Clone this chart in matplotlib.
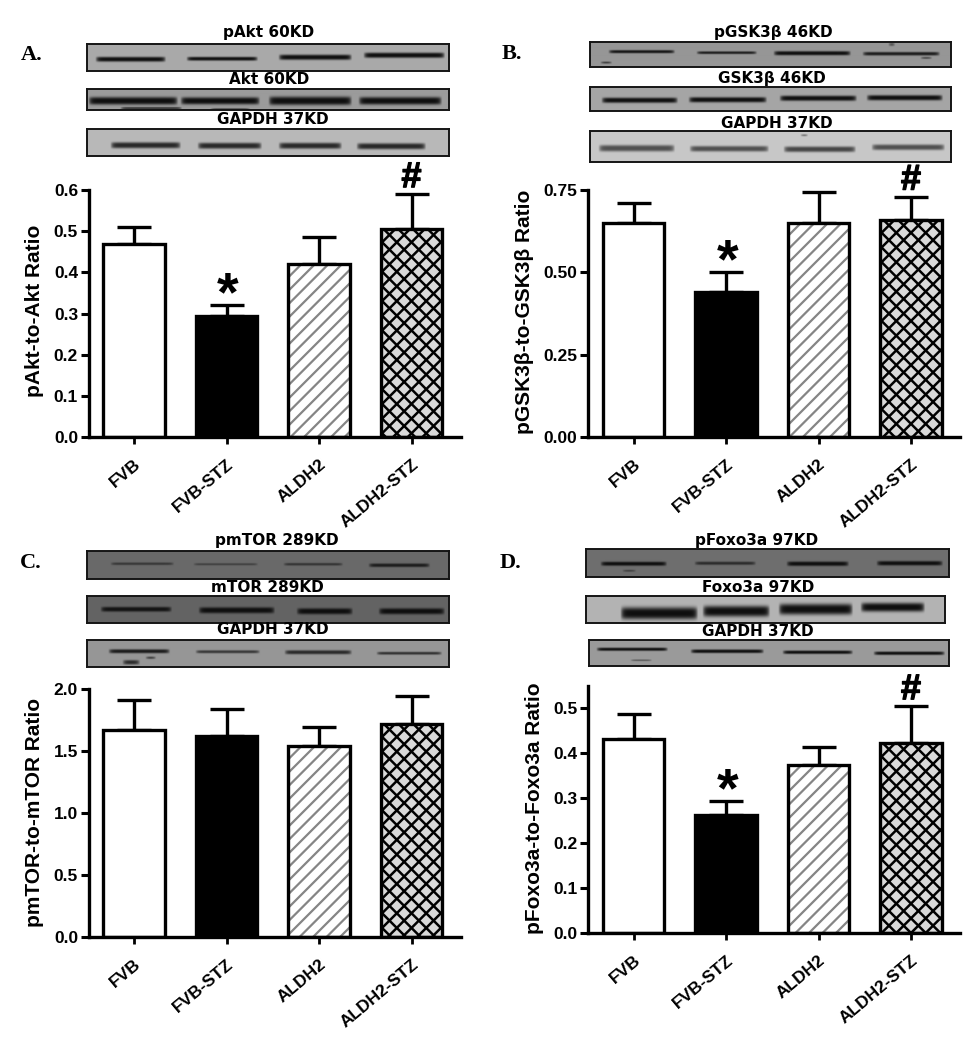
import numpy as np
import matplotlib
matplotlib.use('Agg')
import matplotlib.pyplot as plt
import matplotlib.patheffects as pe
from matplotlib.collections import LineCollection
from matplotlib.transforms import ScaledTranslation, IdentityTransform

W, H = 973, 1050

plt.rcParams['font.family'] = ['Liberation Sans', 'DejaVu Sans']
plt.rcParams['font.weight'] = 'bold'

groups = ['FVB', 'FVB-STZ', 'ALDH2', 'ALDH2-STZ']

# bar heights and upper error caps
akt_mean = [0.47, 0.295, 0.42, 0.505]
akt_top = [0.51, 0.32, 0.485, 0.59]
gsk_mean = [0.65, 0.44, 0.65, 0.66]
gsk_top = [0.71, 0.50, 0.745, 0.73]
mtor_mean = [1.67, 1.62, 1.54, 1.72]
mtor_top = [1.91, 1.84, 1.69, 1.94]
foxo_mean = [0.432, 0.262, 0.373, 0.422]
foxo_top = [0.487, 0.294, 0.414, 0.505]

akt_ticks = [0.0, 0.1, 0.2, 0.3, 0.4, 0.5, 0.6]
gsk_ticks = [0.0, 0.25, 0.5, 0.75]
mtor_ticks = [0.0, 0.5, 1.0, 1.5, 2.0]
foxo_ticks = [0.0, 0.1, 0.2, 0.3, 0.4, 0.5]

# western blot strips: (x0, y0, x1, y1, background grey), bands: (x0, x1, y, half thickness, darkness)
strips = [
    ((87, 44, 449, 71, 170), [(95, 166, 59, 2.4, 1), (186, 258, 58.5, 1.9, 1), (278, 352, 57, 2.6, 1), (363, 445, 55, 2.6, 1)]),
    ((87, 89, 449, 110, 155), [(88, 178, 101, 3.6, 1), (180, 260, 101, 3.4, 1), (268, 352, 101, 4, 1), (358, 442, 101, 3.6, 1), (120, 182, 108, 1, .8), (210, 250, 109, 0.9, .7)]),
    ((87, 129, 449, 156, 185), [(110, 181, 145, 3, .85), (197, 262, 145.5, 3, .85), (278, 342, 145.5, 3, .85), (356, 426, 146, 3, .85)]),
    ((590, 42, 951, 67, 150), [(608, 675, 52, 1.5, .95), (696, 757, 53, 1.3, .9), (773, 851, 53.5, 2, 1), (862, 940, 54, 1.7, .9), (600, 612, 62.5, 1, .7), (888, 895, 45, 1.6, .7), (920, 932, 58, 1, .6)]),
    ((590, 87, 951, 111, 165), [(601, 678, 100, 2.6, 1), (688, 767, 99.5, 2.6, 1), (779, 857, 98, 2.6, 1), (866, 943, 97.5, 2.6, 1)]),
    ((590, 131, 951, 162, 200), [(598, 675, 148, 3.2, .65), (689, 769, 148.5, 2.8, .65), (783, 856, 149, 2.8, .7), (871, 945, 147, 2.8, .65), (800, 808, 135, 1, .6)]),
    ((87, 551, 449, 579, 105), [(110, 174, 563.5, 1.3, .55), (193, 258, 564, 1.1, .45), (283, 343, 564, 1.3, .6), (368, 430, 565, 1.8, .85)]),
    ((87, 596, 449, 623, 100), [(100, 172, 609, 2.4, .95), (198, 275, 610, 3, 1), (296, 353, 611, 3, 1), (378, 445, 611, 3, 1)]),
    ((87, 640, 449, 667, 150), [(108, 170, 651, 2, .9), (195, 260, 651.5, 1.5, .7), (284, 352, 652, 2, .8), (376, 442, 653, 1.4, .75), (122, 140, 662, 2.2, .8), (145, 156, 657.5, 1.2, .7)]),
    ((586, 549, 949, 577, 110), [(600, 667, 563.5, 2, 1), (694, 756, 563, 1.6, .7), (786, 849, 563.5, 2.2, 1), (876, 943, 563, 2.2, 1), (622, 636, 570.5, 1, .5)]),
    ((586, 596, 945, 623, 180), [(620, 698, 613, 6, 1), (702, 770, 611, 5.4, 1), (778, 853, 609, 5.4, 1), (860, 925, 607, 4.4, 1)]),
    ((589, 640, 949, 666, 155), [(596, 668, 649, 1.6, 1), (690, 764, 651, 1.8, 1), (782, 853, 652, 1.7, 1), (873, 945, 653, 1.7, 1), (630, 652, 660, 0.8, .5)]),
]

strip_labels = [
    ('pAkt 60KD', 269, 33), ('Akt 60KD', 269, 79), ('GAPDH 37KD', 273, 120),
    ('pGSK3β 46KD', 773, 33), ('GSK3β 46KD', 772, 78), ('GAPDH 37KD', 777, 123),
    ('pmTOR 289KD', 277, 541), ('mTOR 289KD', 267, 587), ('GAPDH 37KD', 273, 630),
    ('pFoxo3a 97KD', 757, 541), ('Foxo3a 97KD', 758, 588), ('GAPDH 37KD', 758, 632),
]

fig = plt.figure(figsize=(W / 100, H / 100), dpi=100)


def px_axes(x0, y0, x1, y1):
    return fig.add_axes([x0 / W, 1 - y1 / H, (x1 - x0) / W, (y1 - y0) / H])


def fig_text(x, y, s, **kw):
    fig.text(x / W, 1 - y / H, s, ha='center', va='center', **kw)


def draw_strip(box, bands):
    x0, y0, x1, y1, grey = box
    xs = np.arange(x0, x1, 0.5)
    ys = np.arange(y0, y1, 0.5)
    xx, yy = np.meshgrid(xs, ys)
    dark = np.zeros_like(xx)
    for bx0, bx1, by, thick, d in bands:
        edge = np.clip(np.tanh((xx - bx0) / 3) * np.tanh((bx1 - xx) / 3), 0, 1)
        dark += d * edge * np.exp(-np.abs((yy - by) / thick) ** 3)
    dark = np.clip(dark, 0, 1)
    img = grey * (1 - dark) + 15 * dark
    ax = px_axes(x0, y0, x1, y1)
    ax.imshow(img, cmap='gray', vmin=0, vmax=255, aspect='auto', interpolation='bilinear')
    ax.set_xticks([])
    ax.set_yticks([])
    for sp in ax.spines.values():
        sp.set_linewidth(1.4)
        sp.set_color('#151515')


def add_hatch(ax, patch, period, color, lw, cross=False):
    # built-in hatch spacing can't be tuned finely, so lay the 45 degree lines by hand (pixels)
    x0, y0 = ax.transData.transform((patch.get_x(), 0))
    x1, y1 = ax.transData.transform((patch.get_x() + patch.get_width(), patch.get_height()))
    h = y1 - y0
    offsets = np.arange(-h - period, x1 - x0 + period, period)
    segs = [[(x0 + o, y0), (x0 + o + h, y1)] for o in offsets]
    if cross:
        segs += [[(x1 - o, y0), (x1 - o - h, y1)] for o in offsets]
    lc = LineCollection(segs, colors=color, linewidths=lw, transform=IdentityTransform(), zorder=2.5)
    ax.add_collection(lc, autolim=False)
    lc.set_clip_path(patch)


def draw_panel(left, y_zero, y_top, ymax, means, tops, ticks, fmt, ylabel, ylabel_xy, marks):
    right = left + 372
    ax = px_axes(left, y_top, right, y_zero)
    ax.set_xlim(-45.5 / 92.5, 3 + 49 / 92.5)
    ax.set_ylim(0, ymax)
    x = np.arange(4)
    lw = 2.4
    # error bars go behind the bars, only the upper half is shown
    errs = np.array(tops) - np.array(means)
    ax.errorbar(x, means, yerr=[np.zeros(4), errs], fmt='none', ecolor='black',
                elinewidth=lw, capsize=12, capthick=lw, zorder=1)
    width = 0.67
    ax.bar(x[0], means[0], width, color='white', edgecolor='black', linewidth=lw, zorder=2)
    ax.bar(x[1], means[1], width, color='black', edgecolor='black', linewidth=lw, zorder=2)
    slashed = ax.bar(x[2], means[2], width, color='white', linewidth=0, zorder=2)[0]
    add_hatch(ax, slashed, 13.5, '#858585', 1.6)
    ax.bar(x[2], means[2], width, fill=False, edgecolor='black', linewidth=lw, zorder=3)
    crossed = ax.bar(x[3], means[3], width, color='#d9d9d9', linewidth=0, zorder=2)[0]
    add_hatch(ax, crossed, 14.7, 'black', 1.8, cross=True)
    ax.bar(x[3], means[3], width, fill=False, edgecolor='black', linewidth=lw, zorder=3)

    ax.spines['top'].set_visible(False)
    ax.spines['right'].set_visible(False)
    ax.spines['left'].set_linewidth(lw)
    ax.spines['bottom'].set_linewidth(lw)
    ax.set_xticks(x)
    ax.set_xticklabels(groups, rotation=40, ha='right', rotation_mode='anchor', fontsize=12.5, fontweight='bold')
    shift = ScaledTranslation(-3 / 72, 0, fig.dpi_scale_trans)
    for lab in ax.get_xticklabels():
        lab.set_transform(lab.get_transform() + shift)
    ax.set_yticks(ticks)
    ax.set_yticklabels([fmt % t for t in ticks], fontsize=12.5, fontweight='bold')
    ax.tick_params(axis='x', width=2, length=5, pad=9)
    ax.tick_params(axis='y', width=2.2, length=6, pad=1.5)
    ax.patch.set_alpha(0)
    fig_text(ylabel_xy[0], ylabel_xy[1], ylabel, rotation=90, fontsize=15, fontweight='bold')

    # significance marks sit just above the error caps
    for i, s in marks:
        size = 40 if s == '*' else 26
        off = -3.6 if s == '*' else 5
        t = ax.annotate(s, (x[i], tops[i]), xytext=(1 if s == '*' else 0, off), textcoords='offset points',
                        ha='center', va='baseline', fontsize=size, fontweight='bold')
        if s == '#':
            t.set_path_effects([pe.withStroke(linewidth=0.9, foreground='black')])


for box, bands in strips:
    draw_strip(box, bands)

for s, x, y in strip_labels:
    fig_text(x, y, s, fontsize=11, fontweight='bold', family='DejaVu Sans')

for s, x, y in [('A.', 32, 55), ('B.', 512, 54), ('C.', 31, 563), ('D.', 511, 563)]:
    fig_text(x, y, s, fontsize=16, fontweight='bold', family='Liberation Serif')

draw_panel(88.5, 437, 190, 0.6, akt_mean, akt_top, akt_ticks, '%.1f',
           'pAkt-to-Akt Ratio', (35, 311), [(1, '*'), (3, '#')])
draw_panel(588, 437, 190, 0.75, gsk_mean, gsk_top, gsk_ticks, '%.2f',
           'pGSK3β-to-GSK3β Ratio', (525, 312), [(1, '*'), (3, '#')])
draw_panel(88.5, 937, 689, 2.0, mtor_mean, mtor_top, mtor_ticks, '%.1f',
           'pmTOR-to-mTOR Ratio', (35, 812), [])
draw_panel(588, 933, 686, 0.55, foxo_mean, foxo_top, foxo_ticks, '%.1f',
           'pFoxo3a-to-Foxo3a Ratio', (535, 808), [(1, '*'), (3, '#')])

fig.savefig('out.png', dpi=100)
